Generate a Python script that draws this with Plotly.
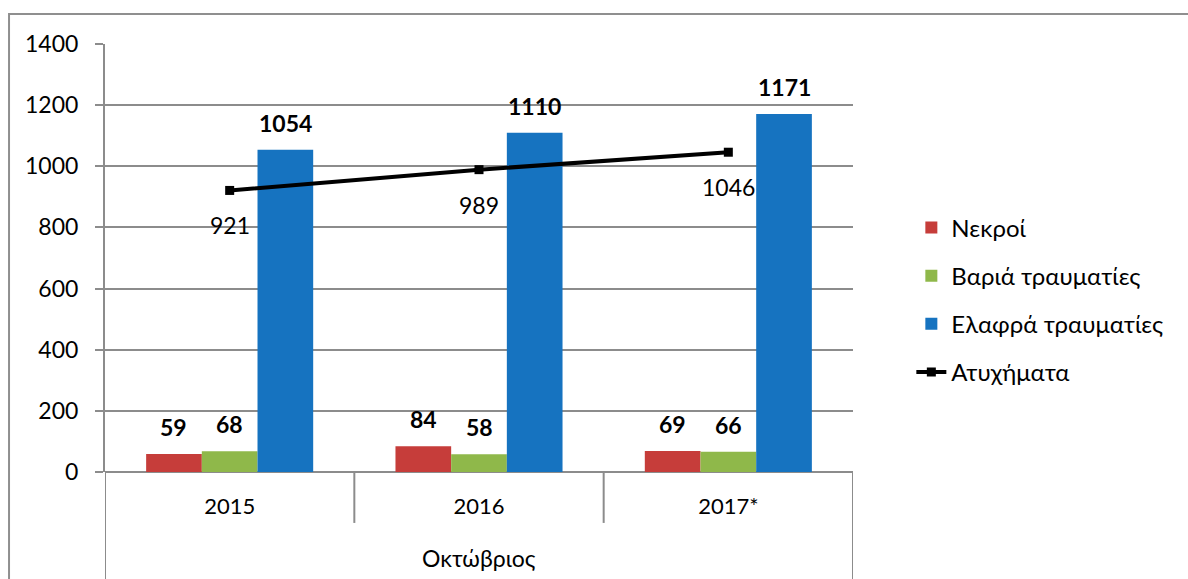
import plotly.graph_objects as go

years = ["2015", "2016", "2017*"]
period = "Οκτώβριος"
nekroi = [59, 84, 69]
varia = [68, 58, 66]
elafra = [1054, 1110, 1171]
atyximata = [921, 989, 1046]
series_names = ["Νεκροί", "Βαριά τραυματίες", "Ελαφρά τραυματίες", "Ατυχήματα"]
colors = ["#C63D3A", "#8FB84A", "#1673C0"]
y_ticks = [0, 200, 400, 600, 800, 1000, 1200, 1400]

FONT = "Lato, Noto Sans"
GRID = "#8C8C8C"
bargap = 0.33

fig = go.Figure()
bar_series = [nekroi, varia, elafra]
for i, (name, vals, col) in enumerate(zip(series_names[:3], bar_series, colors)):
    fig.add_trace(go.Bar(x=years, y=vals, name=name, marker=dict(color=col, line=dict(width=0)),
                         legendgroup=name))
fig.add_trace(go.Scatter(x=years, y=atyximata, name=series_names[3], mode="lines+markers",
                         line=dict(color="black", width=4),
                         marker=dict(symbol="square", size=9, color="black"),
                         legendgroup=series_names[3]))

annotations = []
bw = (1 - bargap) / 3
for k, vals in enumerate(bar_series):
    off = (k - 1) * bw
    for i, v in enumerate(vals):
        annotations.append(dict(x=i + off, y=v, xref="x", yref="y", text=f"<b>{v}</b>",
                                showarrow=False, yanchor="middle", yshift=27,
                                font=dict(family=FONT, size=23, color="black")))
for i, v in enumerate(atyximata):
    annotations.append(dict(x=i, y=v, xref="x", yref="y", text=str(v), showarrow=False,
                            yanchor="middle", yshift=-35,
                            font=dict(family=FONT, size=23, color="black")))
annotations.append(dict(x=0.5, y=-0.2, xref="paper", yref="paper", text=period, showarrow=False,
                        yanchor="middle", font=dict(family=FONT, size=23, color="black")))

shapes = []
# category dividers
for j in range(len(years) + 1):
    outer = j in (0, len(years))
    shapes.append(dict(type="line", xref="x", yref="paper", x0=j - 0.5, x1=j - 0.5,
                       y0=0, y1=-0.4 if outer else -0.119,
                       line=dict(color=GRID, width=2)))
# outer chart border
shapes.append(dict(type="rect", xref="paper", yref="paper", x0=-0.1283, x1=1.6, y0=-0.5, y1=1.0701,
                   line=dict(color="#8F8F8F", width=2), fillcolor="rgba(0,0,0,0)"))

fig.update_layout(
    width=1188, height=579,
    margin=dict(l=105, r=335, t=44, b=107),
    paper_bgcolor="white", plot_bgcolor="white",
    barmode="group", bargap=bargap, bargroupgap=0,
    font=dict(family=FONT, size=22, color="black"),
    showlegend=True,
    legend=dict(x=1.078, y=0.623, xanchor="left", yanchor="top", traceorder="grouped",
                tracegroupgap=14, font=dict(family=FONT, size=24, color="black"),
                bgcolor="rgba(0,0,0,0)"),
    xaxis=dict(type="category", showgrid=False, showline=False, ticks="", zeroline=False,
               tickfont=dict(family=FONT, size=22), ticklabelstandoff=19, range=[-0.5, 2.5]),
    yaxis=dict(range=[0, 1400], tickvals=y_ticks, showgrid=True, gridcolor=GRID, gridwidth=1.5,
               zeroline=True, zerolinecolor=GRID, zerolinewidth=2,
               showline=True, linecolor=GRID, linewidth=2,
               ticks="outside", ticklen=8, tickcolor=GRID, tickwidth=1.5,
               tickfont=dict(family=FONT, size=23), ticklabelstandoff=12),
    annotations=annotations, shapes=shapes,
)
fig.write_html("out.html", config={"displayModeBar": False},
               post_script="document.body.style.margin='0px';")
